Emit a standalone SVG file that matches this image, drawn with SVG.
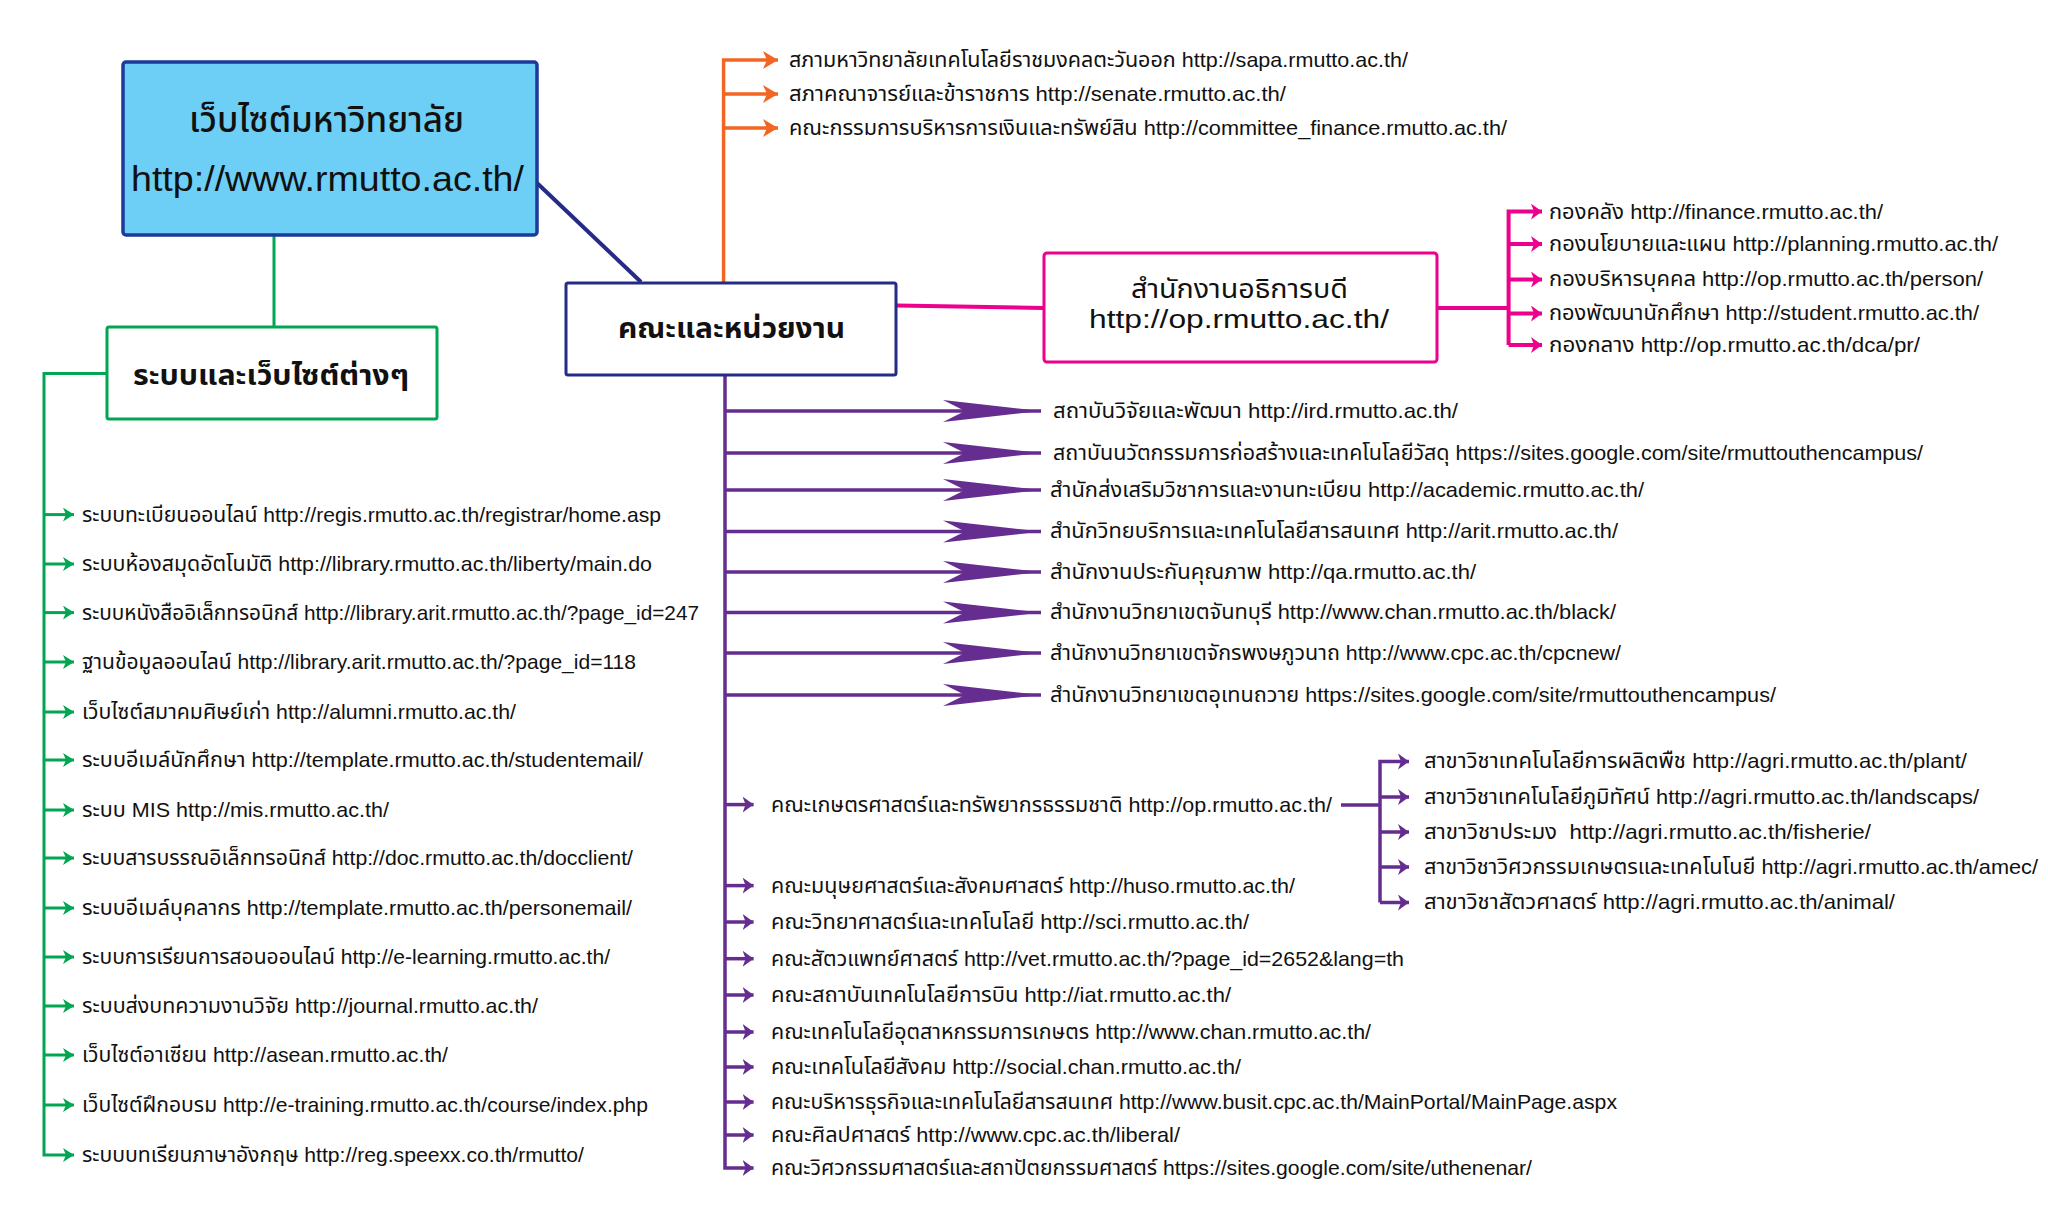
<svg xmlns="http://www.w3.org/2000/svg" width="2048" height="1228" viewBox="0 0 2048 1228">
<style>
text{font-family:"Liberation Sans","Noto Sans Thai","Noto Sans",sans-serif;fill:#111;}
.t{font-size:21px;}
.big{font-size:35px;font-weight:500;}
.mid{font-size:29px;font-weight:bold;}
.pk{font-size:26px;}
.g{stroke:#00a651;stroke-width:3;fill:none;}
.o{stroke:#f26522;stroke-width:3.5;fill:none;}
.p{stroke:#ec008c;stroke-width:4;fill:none;}
.v{stroke:#662d91;stroke-width:3.5;fill:none;}
.n{stroke:#252b86;stroke-width:4;fill:none;}
</style>
<defs>
<marker id="ag" markerUnits="userSpaceOnUse" markerWidth="12" markerHeight="14" refX="11" refY="7" orient="auto"><path d="M0,0 L11,7 L0,14 L3,7 z" fill="#00a651"/></marker>
<marker id="ao" markerUnits="userSpaceOnUse" markerWidth="16" markerHeight="18" refX="15" refY="9" orient="auto"><path d="M0,0 L15,9 L0,18 L4,9 z" fill="#f26522"/></marker>
<marker id="ap" markerUnits="userSpaceOnUse" markerWidth="12" markerHeight="16" refX="11" refY="8" orient="auto"><path d="M0,0 L11,8 L0,16 L3,8 z" fill="#ec008c"/></marker>
<marker id="av" markerUnits="userSpaceOnUse" markerWidth="12" markerHeight="16" refX="11" refY="8" orient="auto"><path d="M0,0 L11,8 L0,16 L3,8 z" fill="#662d91"/></marker>
<marker id="aV" markerUnits="userSpaceOnUse" markerWidth="100" markerHeight="24" refX="98" refY="12" orient="auto"><path d="M0,1 L98,12 L0,23 L22,12 z" fill="#662d91"/></marker>
</defs>

<g id="connectors">
<line class="n" x1="537" y1="183" x2="641" y2="282"/>
<line class="g" x1="274" y1="235" x2="274" y2="327"/>
<path class="g" d="M107,373.5 H44 V1155 H74" marker-end="url(#ag)"/>
<path class="g" d="M44,514.6 H74" marker-end="url(#ag)"/>
<path class="g" d="M44,564 H74" marker-end="url(#ag)"/>
<path class="g" d="M44,612.6 H74" marker-end="url(#ag)"/>
<path class="g" d="M44,662 H74" marker-end="url(#ag)"/>
<path class="g" d="M44,712 H74" marker-end="url(#ag)"/>
<path class="g" d="M44,760 H74" marker-end="url(#ag)"/>
<path class="g" d="M44,810 H74" marker-end="url(#ag)"/>
<path class="g" d="M44,858 H74" marker-end="url(#ag)"/>
<path class="g" d="M44,908 H74" marker-end="url(#ag)"/>
<path class="g" d="M44,957 H74" marker-end="url(#ag)"/>
<path class="g" d="M44,1006 H74" marker-end="url(#ag)"/>
<path class="g" d="M44,1055 H74" marker-end="url(#ag)"/>
<path class="g" d="M44,1105 H74" marker-end="url(#ag)"/>

<path class="o" d="M723.6,282 V60 H778" marker-end="url(#ao)"/>
<path class="o" d="M723.6,94 H778" marker-end="url(#ao)"/>
<path class="o" d="M723.6,128 H778" marker-end="url(#ao)"/>

<line class="p" x1="897" y1="305.6" x2="1043.6" y2="308"/>
<path class="p" d="M1437,308 H1508.6"/>
<path class="p" d="M1508.6,345 V211.6 H1542" marker-end="url(#ap)"/>
<path class="p" d="M1508.6,244 H1542" marker-end="url(#ap)"/>
<path class="p" d="M1508.6,279.5 H1542" marker-end="url(#ap)"/>
<path class="p" d="M1508.6,313.5 H1542" marker-end="url(#ap)"/>
<path class="p" d="M1508.6,345 H1542" marker-end="url(#ap)"/>

<path class="v" d="M725,375 V1168 H753.6" marker-end="url(#av)"/>
<path class="v" d="M725,411 H1041" marker-end="url(#aV)"/>
<path class="v" d="M725,453 H1041" marker-end="url(#aV)"/>
<path class="v" d="M725,490 H1041" marker-end="url(#aV)"/>
<path class="v" d="M725,531.6 H1041" marker-end="url(#aV)"/>
<path class="v" d="M725,572 H1041" marker-end="url(#aV)"/>
<path class="v" d="M725,612.6 H1041" marker-end="url(#aV)"/>
<path class="v" d="M725,653 H1041" marker-end="url(#aV)"/>
<path class="v" d="M725,695 H1041" marker-end="url(#aV)"/>
<path class="v" d="M725,804.6 H753.6" marker-end="url(#av)"/>
<path class="v" d="M725,885.6 H753.6" marker-end="url(#av)"/>
<path class="v" d="M725,922 H753.6" marker-end="url(#av)"/>
<path class="v" d="M725,958.7 H753.6" marker-end="url(#av)"/>
<path class="v" d="M725,995 H753.6" marker-end="url(#av)"/>
<path class="v" d="M725,1032 H753.6" marker-end="url(#av)"/>
<path class="v" d="M725,1067 H753.6" marker-end="url(#av)"/>
<path class="v" d="M725,1102 H753.6" marker-end="url(#av)"/>
<path class="v" d="M725,1135 H753.6" marker-end="url(#av)"/>

<path class="v" d="M1341,805 H1380"/>
<path class="v" d="M1380,902.5 V761.5 H1409" marker-end="url(#av)"/>
<path class="v" d="M1380,797 H1409" marker-end="url(#av)"/>
<path class="v" d="M1380,832 H1409" marker-end="url(#av)"/>
<path class="v" d="M1380,867 H1409" marker-end="url(#av)"/>
<path class="v" d="M1380,902.5 H1409" marker-end="url(#av)"/>
</g>

<g id="node-main">
<rect x="123" y="62" width="414" height="173" rx="3" fill="#6dcff6" stroke="#1b3a9a" stroke-width="3.5"/>
<text class="big" x="189" y="132" textLength="275" lengthAdjust="spacingAndGlyphs">เว็บไซต์มหาวิทยาลัย</text>
<text class="big" x="131" y="191" textLength="393" lengthAdjust="spacingAndGlyphs">http://www.rmutto.ac.th/</text>
</g>

<g id="node-systems">
<rect x="107" y="327" width="330" height="92" rx="2" fill="#fff" stroke="#00a651" stroke-width="3"/>
<text class="mid" x="133" y="385" textLength="276" lengthAdjust="spacingAndGlyphs">ระบบและเว็บไซต์ต่างๆ</text>
</g>

<g id="node-faculties">
<rect x="566" y="283" width="330" height="92" rx="2" fill="#fff" stroke="#252b86" stroke-width="3"/>
<text class="mid" x="618" y="338" textLength="227" lengthAdjust="spacingAndGlyphs">คณะและหน่วยงาน</text>
</g>

<g id="node-president">
<rect x="1044" y="253" width="393" height="109" rx="3" fill="#fff" stroke="#ec008c" stroke-width="3"/>
<text class="pk" x="1131" y="298" textLength="217" lengthAdjust="spacingAndGlyphs">สำนักงานอธิการบดี</text>
<text class="pk" x="1089" y="328" textLength="300" lengthAdjust="spacingAndGlyphs">http://op.rmutto.ac.th/</text>
</g>

<g id="list-council">
<text class="t" x="789" y="67" textLength="619" lengthAdjust="spacingAndGlyphs">สภามหาวิทยาลัยเทคโนโลยีราชมงคลตะวันออก http://sapa.rmutto.ac.th/</text>
<text class="t" x="789" y="101" textLength="497" lengthAdjust="spacingAndGlyphs">สภาคณาจารย์และข้าราชการ http://senate.rmutto.ac.th/</text>
<text class="t" x="789" y="135" textLength="718" lengthAdjust="spacingAndGlyphs">คณะกรรมการบริหารการเงินและทรัพย์สิน http://committee_finance.rmutto.ac.th/</text>
</g>

<g id="list-president">
<text class="t" x="1549" y="219" textLength="334" lengthAdjust="spacingAndGlyphs">กองคลัง http://finance.rmutto.ac.th/</text>
<text class="t" x="1549" y="251" textLength="449" lengthAdjust="spacingAndGlyphs">กองนโยบายและแผน http://planning.rmutto.ac.th/</text>
<text class="t" x="1549" y="286" textLength="434" lengthAdjust="spacingAndGlyphs">กองบริหารบุคคล http://op.rmutto.ac.th/person/</text>
<text class="t" x="1549" y="320" textLength="430" lengthAdjust="spacingAndGlyphs">กองพัฒนานักศึกษา http://student.rmutto.ac.th/</text>
<text class="t" x="1549" y="352" textLength="371" lengthAdjust="spacingAndGlyphs">กองกลาง http://op.rmutto.ac.th/dca/pr/</text>
</g>

<g id="list-offices">
<text class="t" x="1053" y="418" textLength="405" lengthAdjust="spacingAndGlyphs">สถาบันวิจัยและพัฒนา http://ird.rmutto.ac.th/</text>
<text class="t" x="1053" y="460" textLength="870" lengthAdjust="spacingAndGlyphs">สถาบันนวัตกรรมการก่อสร้างและเทคโนโลยีวัสดุ https://sites.google.com/site/rmuttouthencampus/</text>
<text class="t" x="1050" y="497" textLength="594" lengthAdjust="spacingAndGlyphs">สำนักส่งเสริมวิชาการและงานทะเบียน http://academic.rmutto.ac.th/</text>
<text class="t" x="1050" y="538" textLength="568" lengthAdjust="spacingAndGlyphs">สำนักวิทยบริการและเทคโนโลยีสารสนเทศ http://arit.rmutto.ac.th/</text>
<text class="t" x="1050" y="579" textLength="426" lengthAdjust="spacingAndGlyphs">สำนักงานประกันคุณภาพ http://qa.rmutto.ac.th/</text>
<text class="t" x="1050" y="619" textLength="566" lengthAdjust="spacingAndGlyphs">สำนักงานวิทยาเขตจันทบุรี http://www.chan.rmutto.ac.th/black/</text>
<text class="t" x="1050" y="660" textLength="571" lengthAdjust="spacingAndGlyphs">สำนักงานวิทยาเขตจักรพงษภูวนาถ http://www.cpc.ac.th/cpcnew/</text>
<text class="t" x="1050" y="702" textLength="726" lengthAdjust="spacingAndGlyphs">สำนักงานวิทยาเขตอุเทนถวาย https://sites.google.com/site/rmuttouthencampus/</text>
</g>

<g id="list-faculties">
<text class="t" x="771" y="812" textLength="561" lengthAdjust="spacingAndGlyphs">คณะเกษตรศาสตร์และทรัพยากรธรรมชาติ http://op.rmutto.ac.th/</text>
<text class="t" x="771" y="893" textLength="524" lengthAdjust="spacingAndGlyphs">คณะมนุษยศาสตร์และสังคมศาสตร์ http://huso.rmutto.ac.th/</text>
<text class="t" x="771" y="929" textLength="478" lengthAdjust="spacingAndGlyphs">คณะวิทยาศาสตร์และเทคโนโลยี http://sci.rmutto.ac.th/</text>
<text class="t" x="771" y="966" textLength="633" lengthAdjust="spacingAndGlyphs">คณะสัตวแพทย์ศาสตร์ http://vet.rmutto.ac.th/?page_id=2652&amp;lang=th</text>
<text class="t" x="771" y="1002" textLength="460" lengthAdjust="spacingAndGlyphs">คณะสถาบันเทคโนโลยีการบิน http://iat.rmutto.ac.th/</text>
<text class="t" x="771" y="1039" textLength="600" lengthAdjust="spacingAndGlyphs">คณะเทคโนโลยีอุตสาหกรรมการเกษตร http://www.chan.rmutto.ac.th/</text>
<text class="t" x="771" y="1074" textLength="470" lengthAdjust="spacingAndGlyphs">คณะเทคโนโลยีสังคม http://social.chan.rmutto.ac.th/</text>
<text class="t" x="771" y="1109" textLength="846" lengthAdjust="spacingAndGlyphs">คณะบริหารธุรกิจและเทคโนโลยีสารสนเทศ http://www.busit.cpc.ac.th/MainPortal/MainPage.aspx</text>
<text class="t" x="771" y="1142" textLength="409" lengthAdjust="spacingAndGlyphs">คณะศิลปศาสตร์ http://www.cpc.ac.th/liberal/</text>
<text class="t" x="771" y="1175" textLength="761" lengthAdjust="spacingAndGlyphs">คณะวิศวกรรมศาสตร์และสถาปัตยกรรมศาสตร์ https://sites.google.com/site/uthenenar/</text>
</g>

<g id="list-agri">
<text class="t" x="1424" y="768" textLength="543" lengthAdjust="spacingAndGlyphs">สาขาวิชาเทคโนโลยีการผลิตพืช http://agri.rmutto.ac.th/plant/</text>
<text class="t" x="1424" y="804" textLength="555" lengthAdjust="spacingAndGlyphs">สาขาวิชาเทคโนโลยีภูมิทัศน์ http://agri.rmutto.ac.th/landscaps/</text>
<text class="t" x="1424" y="839" textLength="447" lengthAdjust="spacingAndGlyphs" xml:space="preserve">สาขาวิชาประมง  http://agri.rmutto.ac.th/fisherie/</text>
<text class="t" x="1424" y="874" textLength="614" lengthAdjust="spacingAndGlyphs">สาขาวิชาวิศวกรรมเกษตรและเทคโนโนยี http://agri.rmutto.ac.th/amec/</text>
<text class="t" x="1424" y="909" textLength="471" lengthAdjust="spacingAndGlyphs">สาขาวิชาสัตวศาสตร์ http://agri.rmutto.ac.th/animal/</text>
</g>

<g id="list-systems">
<text class="t" x="82" y="522" textLength="579" lengthAdjust="spacingAndGlyphs">ระบบทะเบียนออนไลน์ http://regis.rmutto.ac.th/registrar/home.asp</text>
<text class="t" x="82" y="571" textLength="570" lengthAdjust="spacingAndGlyphs">ระบบห้องสมุดอัตโนมัติ http://library.rmutto.ac.th/liberty/main.do</text>
<text class="t" x="82" y="620" textLength="617" lengthAdjust="spacingAndGlyphs">ระบบหนังสืออิเล็กทรอนิกส์ http://library.arit.rmutto.ac.th/?page_id=247</text>
<text class="t" x="82" y="669" textLength="554" lengthAdjust="spacingAndGlyphs">ฐานข้อมูลออนไลน์ http://library.arit.rmutto.ac.th/?page_id=118</text>
<text class="t" x="82" y="719" textLength="434" lengthAdjust="spacingAndGlyphs">เว็บไซต์สมาคมศิษย์เก่า http://alumni.rmutto.ac.th/</text>
<text class="t" x="82" y="767" textLength="561" lengthAdjust="spacingAndGlyphs">ระบบอีเมล์นักศึกษา http://template.rmutto.ac.th/studentemail/</text>
<text class="t" x="82" y="817" textLength="307" lengthAdjust="spacingAndGlyphs">ระบบ MIS http://mis.rmutto.ac.th/</text>
<text class="t" x="82" y="865" textLength="551" lengthAdjust="spacingAndGlyphs">ระบบสารบรรณอิเล็กทรอนิกส์ http://doc.rmutto.ac.th/docclient/</text>
<text class="t" x="82" y="915" textLength="550" lengthAdjust="spacingAndGlyphs">ระบบอีเมล์บุคลากร http://template.rmutto.ac.th/personemail/</text>
<text class="t" x="82" y="964" textLength="528" lengthAdjust="spacingAndGlyphs">ระบบการเรียนการสอนออนไลน์ http://e-learning.rmutto.ac.th/</text>
<text class="t" x="82" y="1013" textLength="456" lengthAdjust="spacingAndGlyphs">ระบบส่งบทความงานวิจัย http://journal.rmutto.ac.th/</text>
<text class="t" x="82" y="1062" textLength="366" lengthAdjust="spacingAndGlyphs">เว็บไซต์อาเซียน http://asean.rmutto.ac.th/</text>
<text class="t" x="82" y="1112" textLength="566" lengthAdjust="spacingAndGlyphs">เว็บไซต์ฝึกอบรม http://e-training.rmutto.ac.th/course/index.php</text>
<text class="t" x="82" y="1162" textLength="502" lengthAdjust="spacingAndGlyphs">ระบบบทเรียนภาษาอังกฤษ http://reg.speexx.co.th/rmutto/</text>
</g>
</svg>
